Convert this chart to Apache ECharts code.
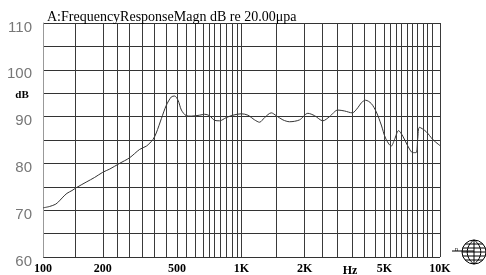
<!DOCTYPE html>
<html>
<head>
<meta charset="utf-8">
<script src="https://cdn.jsdelivr.net/npm/echarts@6/dist/echarts.min.js"></script>
<style>
  html, body { margin: 0; padding: 0; background: #fff; }
  #main { width: 486px; height: 275px; }
</style>
</head>
<body>
<div id="main"></div>
<script>
// frequency response curve (Hz / dB)
var freq = [100, 108, 116, 121, 126, 132, 140, 147, 165, 182, 200, 217, 243, 273, 307, 332, 358, 372,
            395, 418, 443, 460, 479, 498, 527, 558, 615, 652, 690, 732, 775, 839, 906, 998, 1077, 1164,
            1233, 1308, 1413, 1496, 1616, 1746, 1961, 2159, 2334, 2570, 2777, 3058, 3304, 3614, 3855,
            4025, 4217, 4504, 4775, 5061, 5317, 5678, 5901, 6181, 6500, 6887, 7295, 7586, 7727, 7880,
            8512, 9198, 9862, 10000];
var spl = [70.5, 70.8, 71.3, 72.0, 72.8, 73.6, 74.2, 74.8, 76.0, 77.0, 78.1, 78.8, 80.0, 81.2, 83.0, 83.7, 85.1, 86.5,
           89.6, 92.4, 94.2, 94.4, 93.5, 91.4, 90.2, 90.1, 90.3, 90.5, 90.2, 89.2, 89.1, 89.8, 90.3, 90.6, 90.3, 89.3,
           88.8, 89.8, 90.8, 90.2, 89.3, 88.9, 89.3, 90.7, 90.2, 89.1, 90.0, 91.4, 91.2, 90.8, 91.9,
           93.0, 93.5, 92.8, 91.0, 88.2, 85.4, 83.7, 85.1, 87.0, 85.8, 83.7, 82.3, 82.3, 85.4, 87.7,
           86.8, 85.1, 84.0, 83.8];

// vertical grid lines where the sheet draws them (its frequency scale is not a true log)
var gridFreqs = [146, 200, 236, 273, 317, 365, 418, 473, 527, 587, 639, 685, 732, 785, 839, 899, 948, 1000,
                 1497, 2078, 2562, 3048, 3614, 4167, 4733, 5254, 5614, 6018, 6377, 6862, 7245, 7703, 8258,
                 8650, 9167, 10000];

// labelled lines: 100, 200, 500, 1K, 2K, 5K, 10K on the sheet's own scale
var xTicks = [100, 200, 473, 1000, 2078, 5254, 10000];
var xTickNames = ['100', '200', '500', '1K', '2K', '5K', '10K'];

var chart = echarts.init(document.getElementById('main'), null, { renderer: 'canvas' });

var points = [];
for (var i = 0; i < freq.length; i++) {
    points.push([freq[i], spl[i]]);
}

var gridMarks = [];
for (var j = 0; j < gridFreqs.length; j++) {
    gridMarks.push({ xAxis: gridFreqs[j] });
}

// little globe logo in the corner
var gx = 474, gy = 252, gr = 12;
var logo = [];
logo.push({ type: 'circle', shape: { cx: gx, cy: gy, r: gr }, style: { fill: '#fff', stroke: '#000', lineWidth: 1 } });
[-8, -4, 0, 4, 8].forEach(function (dy) {
    var hw = Math.sqrt(gr * gr - dy * dy);
    logo.push({ type: 'line', shape: { x1: gx - hw, y1: gy + dy, x2: gx + hw, y2: gy + dy }, style: { stroke: '#000', lineWidth: 1 } });
});
logo.push({ type: 'line', shape: { x1: gx, y1: gy - gr, x2: gx, y2: gy + gr }, style: { stroke: '#000', lineWidth: 1 } });
logo.push({ type: 'bezierCurve', shape: { x1: gx, y1: gy - gr, x2: gx, y2: gy + gr, cpx1: gx - 9, cpy1: gy - 6, cpx2: gx - 9, cpy2: gy + 6 }, style: { stroke: '#000', fill: null, lineWidth: 1 } });
logo.push({ type: 'bezierCurve', shape: { x1: gx, y1: gy - gr, x2: gx, y2: gy + gr, cpx1: gx + 9, cpy1: gy - 6, cpx2: gx + 9, cpy2: gy + 6 }, style: { stroke: '#000', fill: null, lineWidth: 1 } });
logo.push({ type: 'line', shape: { x1: 452, y1: gy - 1, x2: gx, y2: gy - 1 }, style: { stroke: '#000', lineWidth: 1 } });
logo.push({ type: 'text', x: 455, y: gy - 6, style: { text: 'n', font: '6px "Liberation Serif"', fill: '#000' } });

var option = {
    animation: false,
    backgroundColor: '#fff',
    title: {
        text: 'A:FrequencyResponseMagn dB re 20.00μpa',
        left: 42,
        top: 5,
        textStyle: { fontFamily: 'Liberation Serif', fontSize: 14, fontWeight: 'normal', color: '#000' }
    },
    grid: { left: 43, right: 46, top: 23, bottom: 14 },
    xAxis: {
        type: 'log',
        logBase: 10,
        min: 100,
        max: 10000,
        axisLine: { show: false },
        axisTick: { show: false },
        splitLine: { show: false },
        minorSplitLine: { show: false },
        axisLabel: {
            customValues: xTicks,
            margin: 6,
            fontFamily: 'Liberation Serif',
            fontWeight: 'bold',
            fontSize: 12,
            color: '#000',
            formatter: function (v) {
                var k = xTicks.indexOf(v);
                return k >= 0 ? xTickNames[k] : '';
            }
        }
    },
    yAxis: {
        type: 'value',
        min: 60,
        max: 110,
        interval: 5,
        axisLine: { show: true, lineStyle: { color: '#999', width: 1 } },
        axisTick: { show: false },
        splitLine: { show: true, lineStyle: { color: '#333', width: 1 } },
        axisLabel: {
            margin: 11,
            verticalAlign: 'top',
            lineHeight: 9,
            fontFamily: 'Liberation Sans',
            fontSize: 15,
            color: '#777',
            formatter: function (v) { return v % 10 === 0 ? String(v) : ''; }
        }
    },
    graphic: [
        { type: 'text', x: 22, y: 95, style: { text: 'dB', font: 'bold 11px "Liberation Serif"', fill: '#000', textAlign: 'center', textVerticalAlign: 'middle' } },
        { type: 'text', x: 350, y: 271, style: { text: 'Hz', font: 'bold 12px "Liberation Serif"', fill: '#000', textAlign: 'center', textVerticalAlign: 'middle' } },
        { type: 'group', children: logo }
    ],
    series: [{
        type: 'line',
        data: points,
        smooth: 0.3,
        showSymbol: false,
        symbol: 'none',
        lineStyle: { color: '#333', width: 1 },
        markLine: {
            silent: true,
            symbol: ['none', 'none'],
            label: { show: false },
            lineStyle: { color: '#3a3a3a', width: 1, type: 'solid' },
            emphasis: { disabled: true },
            data: gridMarks
        },
        z: 3
    }]
};

chart.setOption(option);
</script>
</body>
</html>
